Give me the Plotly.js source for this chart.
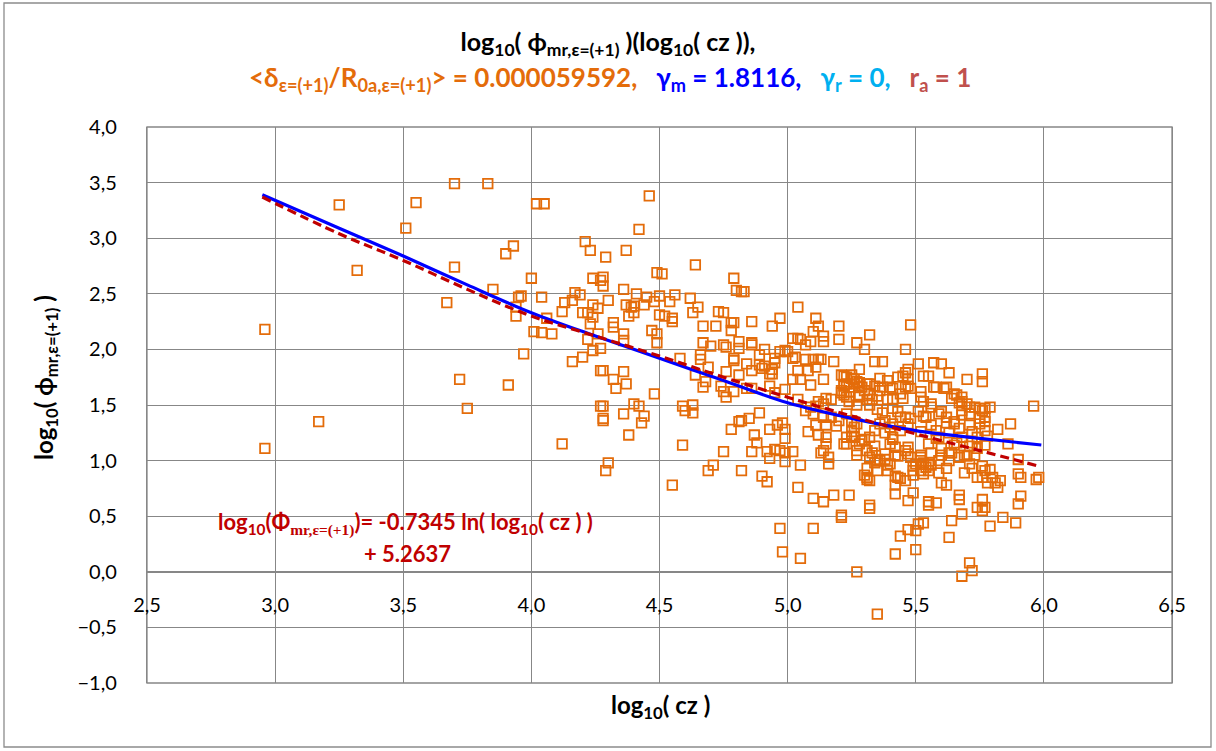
<!DOCTYPE html>
<html>
<head>
<meta charset="utf-8">
<script src="https://cdn.plot.ly/plotly-3.0.1.min.js"></script>
<style>html,body{margin:0;padding:0;background:#fff;}#chart{width:1216px;height:751px;}</style>
</head>
<body>
<div id="chart"></div>
<script>
// ---- data ----
const czLog = [
2.96,2.96,3.17,3.25,3.32,3.51,3.55,3.67,3.70,3.70,3.72,3.75,3.83,3.85,3.91,3.90,3.93,3.95,3.96,3.94,3.94,3.97,4.00,4.02,4.05,4.01,4.04,4.08,4.04,4.06,
4.46,4.42,4.21,4.23,4.29,4.37,4.24,4.27,4.28,4.28,4.49,4.13,4.12,4.16,4.17,4.19,4.24,4.26,4.20,4.22,4.24,4.30,4.36,4.37,4.39,4.40,4.40,4.38,4.41,4.45,4.44,4.48,4.50,
4.23,4.32,4.32,4.36,4.36,4.47,4.49,4.49,4.26,4.22,4.27,4.24,4.16,4.20,4.27,4.28,4.36,4.32,4.33,4.37,4.48,4.27,4.28,4.40,4.42,4.44,4.36,4.28,4.28,4.43,4.38,4.12,4.30,4.29,
4.64,4.51,4.79,4.80,4.82,4.83,4.56,4.54,4.50,4.62,4.65,4.63,4.52,4.55,4.55,4.73,4.75,4.78,4.79,4.78,4.72,4.67,4.86,4.94,4.97,5.04,5.11,5.12,5.10,5.14,5.09,5.14,5.20,5.20,5.27,
5.02,5.04,5.05,5.07,4.67,4.70,4.75,4.76,4.81,4.81,4.86,4.86,4.91,4.66,4.66,4.79,4.79,4.84,4.89,4.89,4.90,4.91,4.94,4.95,4.95,4.97,4.99,5.00,5.02,5.03,5.07,5.10,5.12,5.13,5.18,
5.04,5.08,5.11,5.14,5.02,5.05,5.09,4.58,4.69,4.76,4.86,4.81,4.93,4.94,4.64,4.68,4.67,4.74,4.75,4.76,4.79,4.84,4.86,4.93,4.95,4.99,4.59,4.60,4.63,4.63,
5.21,5.22,5.25,5.24,5.21,5.28,5.28,5.04,5.07,5.12,5.15,5.17,5.24,5.27,4.78,4.81,4.82,4.85,4.89,4.93,4.96,4.98,4.99,4.99,4.97,4.87,4.88,4.75,4.86,4.92,4.95,4.59,
5.08,5.11,5.15,5.12,5.15,5.15,5.14,5.23,5.22,5.25,5.27,5.16,
4.99,5.02,5.13,4.93,4.99,5.05,5.16,5.27,4.69,4.71,4.82,4.90,4.92,4.55,5.04,5.10,5.14,5.18,5.24,5.21,5.21,4.97,5.10,4.98,5.05,5.27,
5.30,5.32,5.28,5.29,5.31,5.32,5.34,5.30,5.32,5.31,5.33,5.35,5.36,5.37,5.39,5.40,5.39,5.41,5.44,5.46,5.47,5.45,5.47,5.46,5.47,5.43,
5.22,5.23,5.25,5.26,5.23,5.24,5.26,5.22,5.21,5.22,5.23,5.28,
5.09,5.11,5.14,5.10,5.14,5.17,5.19,5.20,5.23,5.25,5.26,5.27,5.23,5.26,5.28,5.29,5.32,5.34,5.36,5.38,5.40,5.41,5.44,5.46,5.47,5.44,5.41,5.40,
5.31,5.32,5.35,5.36,5.38,5.40,5.43,5.46,5.48,5.50,5.52,5.54,5.31,5.32,5.35,5.39,5.43,5.46,5.49,5.52,5.53,5.55,
5.48,5.46,5.34,5.37,5.28,5.51,5.57,5.60,5.63,5.55,5.76,5.76,5.70,5.27,5.36,5.41,5.48,5.52,5.57,5.61,
5.45,5.52,5.53,5.56,5.64,5.66,5.68,5.70,5.71,5.75,5.77,5.96,5.87,5.82,5.78,5.86,
5.32,5.35,5.37,5.41,5.43,5.48,5.51,5.53,5.56,5.60,5.62,5.65,5.68,5.71,5.75,5.77,5.67,5.72,
5.25,5.30,5.34,5.38,5.41,5.42,5.47,5.52,5.55,5.58,5.60,5.63,5.65,5.69,5.72,5.74,5.77,5.90,
5.53,5.58,5.62,5.65,5.68,5.79,5.67,5.68,5.71,5.73,5.76,5.77,5.75,5.77,5.74,5.68,5.65,5.62,5.59,5.56,5.54,5.58,5.59,5.63,5.66,5.71,
5.52,5.55,5.59,5.63,5.67,5.71,5.69,5.74,5.77,5.80,5.83,5.82,5.90,5.91,5.98,5.97,5.91,5.90,5.77,5.74,5.68,5.64,5.84,5.89,5.79,5.63,5.53,5.50,5.44,5.42,5.50,5.71,5.72,5.68,
5.33,5.38,5.42,5.47,5.52,5.56,5.60,5.64,5.70,5.73,5.31,5.30,5.31,5.34,5.39,5.42,5.44,5.49,5.49,5.53,5.56,5.59,5.62,5.72,5.76,5.79,5.76,5.78,5.81,
5.42,5.42,5.49,5.47,5.55,5.55,5.58,5.62,5.60,5.67,5.67,5.76,5.76,5.32,5.32,5.51,5.47,5.35
];
const phiLog = [
2.18,1.11,1.35,3.30,2.71,3.09,3.32,2.42,2.74,3.49,1.73,1.47,3.49,2.54,1.68,2.86,2.93,2.47,2.48,2.38,2.30,1.96,2.64,3.31,3.31,2.16,2.15,2.14,2.47,2.28,
3.38,3.08,2.97,2.89,2.83,2.89,2.64,2.62,2.65,2.57,2.69,2.42,2.34,2.44,2.51,2.49,2.40,2.37,2.33,2.33,2.29,2.44,2.54,2.40,2.38,2.39,2.33,2.30,2.50,2.47,2.40,2.43,2.31,
2.23,2.24,2.20,2.14,2.08,2.17,2.14,2.06,2.14,2.09,2.01,1.99,1.89,1.93,1.81,1.81,1.80,1.73,1.65,1.69,1.60,1.49,1.49,1.51,1.49,1.40,1.42,1.38,1.36,1.34,1.23,1.15,0.98,0.91,
2.76,2.68,2.64,2.53,2.52,2.52,2.49,2.43,2.48,2.46,2.38,2.33,2.30,2.28,2.25,2.34,2.33,2.24,2.24,2.17,2.21,2.21,2.25,2.21,2.28,2.38,2.28,2.21,2.16,2.12,2.07,2.07,2.21,2.09,2.06,
2.10,2.10,2.09,2.04,2.06,2.03,2.04,2.02,2.07,2.01,2.06,2.04,2.00,1.95,1.91,1.92,1.90,1.87,1.95,1.86,1.83,1.85,1.82,1.92,1.88,1.98,1.99,1.98,1.92,1.93,1.91,1.91,1.91,1.91,1.89,
1.81,1.81,1.84,1.73,1.73,1.73,1.68,1.92,1.84,1.80,1.81,1.77,1.78,1.78,1.77,1.71,1.66,1.67,1.62,1.57,1.62,1.65,1.65,1.67,1.61,1.64,1.49,1.45,1.50,1.43,
1.77,1.68,1.74,1.62,1.61,1.70,1.59,1.55,1.45,1.53,1.56,1.55,1.53,1.50,1.28,1.35,1.36,1.38,1.43,1.28,1.32,1.34,1.28,1.20,1.09,1.23,1.16,1.08,1.08,1.08,1.10,1.14,
1.26,1.32,1.32,1.23,1.21,1.15,1.09,1.21,1.15,1.22,1.09,1.03,
1.07,1.08,1.07,1.02,0.99,0.96,0.97,1.05,0.91,0.96,0.91,0.86,0.81,0.78,0.76,0.66,0.63,0.69,0.69,0.51,0.49,0.39,0.39,0.18,0.12,0.00,
2.00,2.13,1.67,1.66,1.69,1.69,1.67,1.63,1.60,1.55,1.55,1.58,1.63,1.66,1.72,1.66,1.55,1.55,1.60,1.66,1.67,1.76,1.82,1.79,1.73,1.75,
1.76,1.75,1.77,1.73,1.69,1.66,1.69,1.67,1.63,1.59,1.57,1.57,
1.48,1.49,1.51,1.42,1.39,1.39,1.31,1.36,1.42,1.36,1.30,1.33,1.15,1.21,1.15,1.18,1.21,1.27,1.33,1.36,1.30,1.33,1.39,1.39,1.33,1.27,1.21,1.15,
1.09,1.03,1.01,1.00,1.01,0.97,1.04,1.09,1.03,0.97,1.00,0.94,0.85,0.82,0.91,0.91,0.85,0.82,0.91,0.91,0.88,0.91,
2.22,2.00,1.89,1.89,1.82,1.87,1.88,1.87,1.79,1.76,1.78,1.71,1.73,1.71,1.74,1.65,1.65,1.62,1.66,1.65,
1.56,1.57,1.53,1.51,1.56,1.59,1.53,1.51,1.48,1.47,1.47,1.49,1.33,1.28,1.22,1.15,
1.50,1.46,1.43,1.47,1.44,1.38,1.44,1.40,1.32,1.44,1.34,1.35,1.41,1.32,1.38,1.35,1.29,1.26,
1.26,1.19,1.13,1.25,1.19,1.12,1.12,1.26,1.15,1.20,1.11,1.07,1.14,1.05,1.16,1.11,1.14,1.01,
1.76,1.66,1.66,1.60,1.57,1.48,1.52,1.45,1.42,1.48,1.45,1.39,1.33,1.27,1.21,1.21,1.33,1.39,1.42,1.48,1.39,1.27,1.21,1.25,1.16,1.13,
1.03,0.97,1.00,1.00,1.03,0.97,0.89,0.85,0.91,0.85,0.82,0.76,0.88,0.85,0.85,0.83,0.68,0.61,0.58,0.58,0.52,0.46,0.49,0.44,0.41,0.31,0.44,0.37,0.32,0.16,0.20,0.08,0.01,-0.04,
1.07,1.06,1.05,1.06,1.05,1.07,1.05,1.07,1.04,1.05,0.93,0.87,0.83,0.98,0.96,0.86,0.84,0.95,0.87,0.98,0.96,0.89,0.93,0.93,0.95,0.92,0.85,0.80,0.80,
0.78,0.70,0.71,0.64,0.63,0.60,0.62,0.78,0.80,0.69,0.65,0.65,0.55,0.60,0.57,0.43,0.38,-0.38
];
// model curve (blue, solid)
const modelX = [2.95,3.25,3.50,3.75,4.00,4.25,4.50,4.75,5.00,5.25,5.50,5.75,5.99];
const modelY = [3.39,3.09,2.84,2.58,2.33,2.12,1.92,1.72,1.52,1.38,1.27,1.20,1.14];
// logarithmic trendline (dark red, dashed)
const trendX = [2.95,3.25,3.50,3.75,4.00,4.25,4.50,4.75,5.00,5.25,5.50,5.75,5.98];
const trendY = [3.37,3.04,2.80,2.54,2.30,2.12,1.94,1.75,1.57,1.40,1.24,1.09,0.95];
const xTicks = [2.5,3.0,3.5,4.0,4.5,5.0,5.5,6.0,6.5];
const yTicks = [-1.0,-0.5,0.0,0.5,1.0,1.5,2.0,2.5,3.0,3.5,4.0];

const FONT = 'Lato, "Open Sans", sans-serif';
const GRID = '#878787';
const L = 147, R = 1172, T = 127, B = 683;
const px = v => (v - L) / (R - L);
const py = v => (B - v) / (B - T);

const traces = [
  {x: czLog, y: phiLog, type: 'scatter', mode: 'markers', name: 'data',
   marker: {symbol: 'square-open', size: 9.5, color: '#E46C0A', line: {width: 1.8, color: '#E46C0A'}},
   hoverinfo: 'x+y'},
  {x: modelX, y: modelY, type: 'scatter', mode: 'lines', name: 'model',
   line: {color: '#0000FF', width: 3.2, shape: 'spline'}},
  {x: trendX, y: trendY, type: 'scatter', mode: 'lines', name: 'trend',
   line: {color: '#C00000', width: 3.2, dash: '9px,5px', shape: 'spline'}}
];

const layout = {
  width: 1216, height: 751,
  paper_bgcolor: '#FFFFFF', plot_bgcolor: '#FFFFFF',
  margin: {l: L, r: 1216 - R, t: T, b: 751 - B, pad: 0},
  showlegend: false,
  separators: ', ',
  font: {family: FONT, color: '#000000'},
  title: {
    text: '<b>log<sub>10</sub>( ϕ<sub>mr,ε=(+1)</sub> )(log<sub>10</sub>( cz )),</b>',
    x: 0.5, xref: 'container', y: 1 - 42 / 751, yref: 'container', yanchor: 'middle',
    font: {family: FONT, size: 25, color: '#000000'}
  },
  xaxis: {
    range: [2.5, 6.5], tickvals: xTicks, tickformat: '.1f',
    anchor: 'free', position: 0.2,
    showgrid: true, gridcolor: GRID, gridwidth: 1.3,
    zeroline: false, showline: true, linecolor: GRID, linewidth: 1.3,
    ticks: '', ticklabelstandoff: 15,
    tickfont: {family: FONT, size: 20, color: '#000000'}
  },
  yaxis: {
    range: [-1, 4], tickvals: yTicks, tickformat: '.1f',
    showgrid: true, gridcolor: GRID, gridwidth: 1.3,
    zeroline: false, showline: true, linecolor: GRID, linewidth: 1.3, mirror: true,
    ticks: '', ticklabelstandoff: 25,
    tickfont: {family: FONT, size: 20, color: '#000000'}
  },
  shapes: [
    {type: 'rect', xref: 'paper', yref: 'paper', x0: 0, x1: 1, y0: 0, y1: 1,
     line: {color: GRID, width: 1.3}, fillcolor: 'rgba(0,0,0,0)', layer: 'below'},
    {type: 'rect', xref: 'paper', yref: 'paper', x0: px(4), x1: px(1211), y0: py(747), y1: py(3),
     line: {color: '#8C8C8C', width: 1.3}, fillcolor: 'rgba(0,0,0,0)'}
  ],
  annotations: [
    {xref: 'paper', yref: 'paper', x: px(610), y: py(78), xanchor: 'center', yanchor: 'middle', showarrow: false,
     font: {family: FONT, size: 26},
     text: '<b><span style="color:#E46C0A">&lt;δ<sub>ε=(+1)</sub>/R<sub>0a,ε=(+1)</sub>&gt; = 0.000059592,</span>\u00A0\u00A0 ' +
           '<span style="color:#0000FF">γ<sub>m</sub> = 1.8116,</span>\u00A0\u00A0 ' +
           '<span style="color:#00B0F0">γ<sub>r</sub> = 0,</span>\u00A0\u00A0 ' +
           '<span style="color:#C0504D">r<sub>a</sub> = 1</span></b>'},
    {xref: 'paper', yref: 'paper', x: px(660), y: py(706), xanchor: 'center', yanchor: 'middle', showarrow: false,
     font: {family: FONT, size: 24, color: '#000000'},
     text: '<b>log<sub>10</sub>( cz )</b>'},
    {xref: 'paper', yref: 'paper', x: px(45), y: py(378), xanchor: 'center', yanchor: 'middle', showarrow: false,
     textangle: -90, font: {family: FONT, size: 24, color: '#000000'},
     text: '<b>log<sub>10</sub>( ϕ<sub>mr,ε=(+1)</sub> )</b>'},
    {xref: 'paper', yref: 'paper', x: px(405), y: py(523), xanchor: 'center', yanchor: 'middle', showarrow: false,
     font: {family: FONT, size: 22, color: '#C00000'},
     text: '<b>log<sub>10</sub>(Φ<sub><span style="font-family:\'Liberation Serif\'">mr,ε=(+1)</span></sub>)= -0.7345 ln( log<sub>10</sub>( cz ) )</b>'},
    {xref: 'paper', yref: 'paper', x: px(407), y: py(553), xanchor: 'center', yanchor: 'middle', showarrow: false,
     font: {family: FONT, size: 22, color: '#C00000'},
     text: '<b>+ 5.2637</b>'}
  ]
};

Plotly.newPlot('chart', traces, layout, {displayModeBar: false, responsive: false});
</script>
</body>
</html>
